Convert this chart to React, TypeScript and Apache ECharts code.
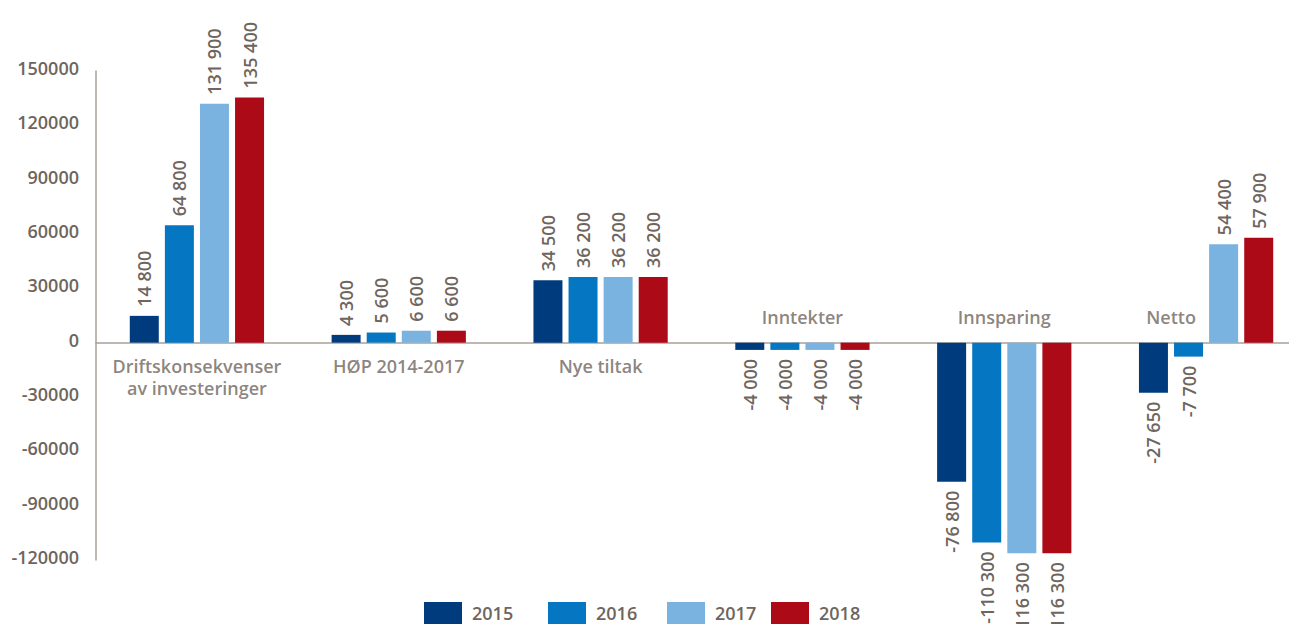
import React, { useEffect, useRef } from "react";
import * as echarts from "echarts";

const categories = [
  "Driftskonsekvenser\nav investeringer",
  "HØP 2014-2017",
  "Nye tiltak",
  "Inntekter",
  "Innsparing",
  "Netto",
];
const labelAbove = [false, false, false, true, true, true];
const years = ["2015", "2016", "2017", "2018"];
const values2015 = [14800, 4300, 34500, -4000, -76800, -27650];
const values2016 = [64800, 5600, 36200, -4000, -110300, -7700];
const values2017 = [131900, 6600, 36200, -4000, -116300, 54400];
const values2018 = [135400, 6600, 36200, -4000, -116300, 57900];
const yTicks = { min: -120000, max: 150000, interval: 30000 };

const colors = ["#003b7e", "#0476c2", "#7ab3df", "#ad0a17"];
const legendLeft = [419, 543, 662, 766];
const textColor = "#6e655d";
const fontFamily = "'Open Sans', sans-serif";

function fmt(v: number): string {
  const s = String(Math.abs(v)).replace(/\B(?=(\d{3})+(?!\d))/g, " ");
  return (v < 0 ? "-" : "") + s;
}

export default function App() {
  const ref = useRef<HTMLDivElement>(null);
  useEffect(() => {
    if (!ref.current) return;
    const chart = echarts.init(ref.current, null, { renderer: "svg" });
    const allSeries = [values2015, values2016, values2017, values2018];
    const labelStyle = {
      show: true,
      rotate: 90,
      distance: 9,
      verticalAlign: "middle",
      color: textColor,
      fontFamily,
      fontWeight: 600,
      fontSize: 18,
      formatter: (p: any) => fmt(p.value),
    };
    const catLabel = {
      show: true,
      color: textColor,
      fontFamily,
      fontWeight: 600,
      fontSize: 18,
      lineHeight: 22,
      formatter: (p: any) => categories[p.dataIndex],
    };
    // a label above the axis is moved left when its group has positive bars
    const hasPositive = categories.map((_, i) => allSeries.some((s) => s[i] > 0));
    chart.setOption({
      animation: false,
      grid: { left: 96, right: 0, top: 71, bottom: 64, containLabel: false },
      legend: years.map((y, i) => ({
        data: [y],
        left: legendLeft[i],
        top: 597,
        itemWidth: 38,
        itemHeight: 22,
        itemGap: 0,
        icon: "rect",
        textStyle: {
          color: textColor,
          fontFamily,
          fontWeight: 600,
          fontSize: 18,
          padding: [0, 0, 0, 5],
        },
      })),
      xAxis: {
        type: "category",
        data: categories,
        position: "bottom",
        axisLine: { onZero: true, lineStyle: { color: "#a8a09a", width: 1.5 } },
        axisTick: { show: false },
        axisLabel: { show: false },
      },
      yAxis: {
        type: "value",
        min: yTicks.min,
        max: yTicks.max,
        interval: yTicks.interval,
        splitLine: { show: false },
        axisTick: { show: false },
        axisLine: { show: true, lineStyle: { color: "#a8a09a", width: 1.5 } },
        axisLabel: {
          margin: 17,
          formatter: (v: number) => "{a|" + String(v) + "}",
          rich: {
            a: {
              color: textColor,
              fontFamily,
              fontWeight: 600,
              fontSize: 18,
              padding: [0, 0, 6, 0],
            },
          },
        },
      },
      series: [
        ...allSeries.map((vals, si) => ({
          name: years[si],
          type: "bar",
          barWidth: 29,
          barGap: "21%",
          itemStyle: { color: colors[si] },
          data: vals.map((v) => ({
            value: v,
            label:
              v >= 0
                ? { ...labelStyle, position: "top", align: "left" }
                : { ...labelStyle, position: "bottom", align: "right" },
          })),
        })),
        {
          type: "scatter",
          symbolSize: 1,
          itemStyle: { color: "transparent" },
          silent: true,
          z: 5,
          data: categories.map((c, i) => ({
            value: [i, 0],
            label: labelAbove[i]
              ? {
                  ...catLabel,
                  position: "top",
                  distance: 14,
                  offset: [hasPositive[i] ? -35 : 0, 0],
                }
              : { ...catLabel, position: "bottom", distance: 12 },
          })),
        },
      ],
    });
    return () => chart.dispose();
  }, []);
  return (
    <div
      style={{
        position: "absolute",
        left: 0,
        top: 0,
        width: 1289,
        height: 624,
        overflow: "hidden",
      }}
    >
      <div ref={ref} style={{ width: 1307, height: 624 }} />
    </div>
  );
}
